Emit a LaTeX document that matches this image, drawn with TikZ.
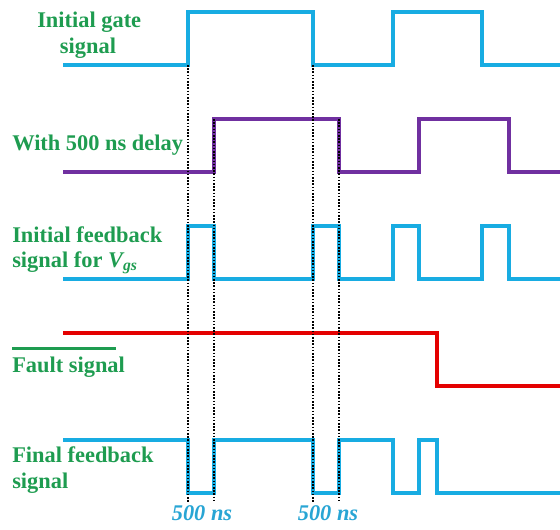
\documentclass[tikz,border=0pt]{standalone}
\usepackage{fontspec}
\setmainfont{Liberation Serif}
\usetikzlibrary{positioning}
\definecolor{sigblue}{RGB}{24,172,226}
\definecolor{sigpurple}{RGB}{112,48,160}
\definecolor{sigred}{RGB}{228,0,0}
\definecolor{lblgreen}{RGB}{30,156,80}
\definecolor{nsblue}{RGB}{40,165,212}

\begin{document}
\begin{tikzpicture}[x=0.75pt,y=-0.75pt,
    sig/.style={line width=2.4pt, line join=miter},
    lbl/.style={text=lblgreen, inner sep=0pt, anchor=base west,
        font=\bfseries\fontsize{16.8}{19.5}\selectfont},
    nslbl/.style={text=nsblue, inner sep=0pt, anchor=base,
        font=\bfseries\itshape\fontsize{16.8}{19.5}\selectfont},
    tmark/.style={dash pattern=on 1.2pt off 1.2pt, line width=1.5pt}]
\useasboundingbox (0,0) rectangle (560,529);

% labels
\node[lbl] (gatea) at (37,27) {Initial gate};
\node[lbl, anchor=base] (gateb) at (88,53) {signal};
\node[lbl] (delay) at (12,150) {With 500 ns delay};
\node[lbl] (fba) at (12,242) {Initial feedback};
\node[lbl] (fbb) at (12,267) {signal for {\itshape V}\textsubscript{\itshape gs}};
\node[lbl] (fault) at (12,372) {Fault signal};
\draw[lblgreen, line width=2.2pt] ([yshift=5.5pt]fault.north west) -- ([yshift=5.5pt,xshift=-7pt]fault.north east);
\node[lbl] (fina) at (12,462) {Final feedback};
\node[lbl] (finb) at (12,488) {signal};

% time marks
\node[nslbl] (nsa) at (202,520) {500 ns};
\node[nslbl] (nsb) at (328,520) {500 ns};

% signals
\draw[sig,sigblue] (63,65)--(188,65)--(188,12)--(313,12)--(313,65)--(393,65)
    --(393,12)--(482,12)--(482,65)--(560,65);
\draw[sig,sigpurple] (63,172)--(214,172)--(214,119)--(339,119)--(339,172)--(419,172)
    --(419,119)--(509,119)--(509,172)--(560,172);
\draw[sig,sigblue] (63,279)--(188,279)--(188,226)--(214,226)--(214,279)--(313,279)
    --(313,226)--(339,226)--(339,279)--(393,279)--(393,226)--(419,226)--(419,279)
    --(482,279)--(482,226)--(509,226)--(509,279)--(560,279);
\draw[sig,sigred] (63,333)--(437,333)--(437,386)--(560,386);
\draw[sig,sigblue] (63,440)--(188,440)--(188,493)--(214,493)--(214,440)--(313,440)
    --(313,493)--(339,493)--(339,440)--(393,440)--(393,493)--(419,493)--(419,440)
    --(437,440)--(437,493)--(560,493);

% dotted marks over the signals
\draw[tmark] (188,65)--(188,502) (214,119)--(214,502);
\draw[tmark] (313,65)--(313,502) (339,119)--(339,502);

\end{tikzpicture}
\end{document}
